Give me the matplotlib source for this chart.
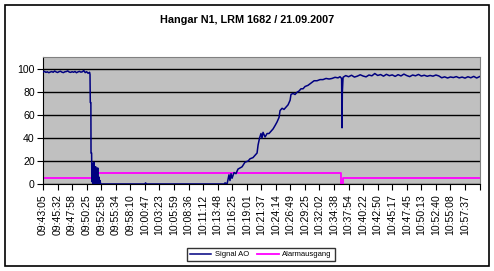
import matplotlib
matplotlib.use("Agg")
import matplotlib.pyplot as plt
from matplotlib.patches import Rectangle

plt.rcParams["font.family"] = ["Liberation Sans", "DejaVu Sans"]

# x positions are in units of the label interval (0 = first label)
time_labels = [
    "09:43:05", "09:45:32", "09:47:58", "09:50:25", "09:52:58", "09:55:34",
    "09:58:10", "10:00:47", "10:03:23", "10:05:59", "10:08:36", "10:11:12",
    "10:13:48", "10:16:25", "10:19:01", "10:21:37", "10:24:14", "10:26:49",
    "10:29:25", "10:32:02", "10:34:38", "10:37:54", "10:40:22", "10:42:50",
    "10:45:17", "10:47:45", "10:50:13", "10:52:40", "10:55:08", "10:57:37",
]

signal_x = [
    0.0, 0.1, 0.2, 0.3, 0.4, 0.5, 0.6, 0.7, 0.8, 0.9, 1.0, 1.1, 1.2, 1.3,
    1.4, 1.5, 1.6, 1.7, 1.8, 1.9, 2.0, 2.1, 2.2, 2.3, 2.4, 2.5, 2.6, 2.7,
    2.8, 2.9, 3.0, 3.1, 3.2,
    3.23, 3.25, 3.29, 3.30, 3.34, 3.36, 3.40, 3.42, 3.45, 3.47, 3.50, 3.53,
    3.56, 3.58, 3.62, 3.65, 3.68, 3.72, 3.76, 3.80, 3.85, 3.88, 3.92, 3.96,
    4.0, 7.0, 7.05, 7.1, 12.45,
    12.51, 12.65, 12.78, 12.85, 12.92, 12.99, 13.13, 13.26, 13.40, 13.54,
    13.68, 13.88, 14.09, 14.23, 14.43, 14.57, 14.71, 14.78, 14.88, 14.98,
    15.05, 15.12, 15.26, 15.40, 15.53, 15.67, 15.81, 15.95, 16.08, 16.22,
    16.29, 16.43, 16.56, 16.70, 16.84, 16.98, 17.04, 17.18, 17.32, 17.46,
    17.59, 17.73, 17.87, 18.01, 18.21, 18.42, 18.63, 18.83, 19.04, 19.24,
    19.45, 19.66, 19.86, 20.07, 20.27, 20.41, 20.52, 20.55, 20.57, 20.62,
    20.8, 21.0, 21.2, 21.4, 21.6, 21.8, 22.0, 22.2, 22.4, 22.6, 22.8, 23.0,
    23.2, 23.4, 23.6, 23.8, 24.0, 24.2, 24.4, 24.6, 24.8, 25.0, 25.2, 25.4,
    25.6, 25.8, 26.0, 26.2, 26.4, 26.6, 26.8, 27.0, 27.2, 27.4, 27.6, 27.8,
    28.0, 28.2, 28.4, 28.6, 28.8, 29.0, 29.2, 29.4, 29.6, 29.8, 30.0,
]
signal_y = [
    97.5, 98.2, 97.3, 97.8, 97.0, 97.6, 98.0, 97.4, 98.5, 97.7, 97.2, 97.9,
    98.3, 97.5, 97.1, 97.8, 98.0, 98.6, 97.6, 97.3, 97.9, 97.4, 98.1, 97.0,
    97.7, 98.2, 97.5, 97.8, 98.9, 97.1, 97.9, 96.5, 97.4,
    95.5, 71, 71, 27, 27, 2, 18, 0, 17, 2, 19, 0,
    10, 0, 15, 2, 12, 0, 14, 0, 6, 0, 3, 0,
    0, 0, 1, 0, 0,
    1, 0, 8, 3, 9, 5, 10, 9, 13, 14,
    15, 19, 20, 22, 23, 25, 27, 34, 40, 44,
    40, 45, 41, 44, 44, 46, 48, 51, 54, 58,
    64, 66, 65, 67, 69, 73, 78, 79, 78, 80,
    81, 83, 83, 85, 86, 88, 90, 90, 91, 91,
    92, 91.5, 92, 93, 92.5, 93.5, 92, 49, 80, 93,
    94.5, 93.5, 94.8, 93.2, 94.0, 95.2, 94.1, 93.4, 95.0, 94.3, 96.3, 94.6,
    95.4, 94.0, 95.6, 94.4, 95.1, 93.8, 95.3, 94.2, 95.8, 94.5, 93.6, 95.0,
    94.3, 95.5, 94.1, 94.8, 93.9, 94.6, 94.0, 95.0, 94.2, 92.6, 93.4, 92.4,
    93.3, 92.8, 93.6, 92.5, 93.2, 92.3, 93.5, 92.6, 93.8, 92.4, 93.6,
]

alarm_x = [0.0, 3.39, 3.39, 20.5, 20.5, 20.62, 20.62, 30.0]
alarm_y = [5, 5, 10, 10, 0, 0, 5, 5]

y_ticks = [0, 20, 40, 60, 80, 100]


def main() -> None:
    fig = plt.figure(figsize=(4.94, 2.71), dpi=100)
    fig.patches.append(
        Rectangle((5 / 494, 5 / 271), 484 / 494, 261 / 271, transform=fig.transFigure,
                  fill=False, edgecolor="black", linewidth=1.2)
    )
    ax = fig.add_axes([43 / 494, 1 - 184 / 271, 437 / 494, 127 / 271])
    ax.set_facecolor("#c0c0c0")

    ax.plot(signal_x, signal_y, color="#000080", lw=1.1, label="Signal AO", zorder=3)
    ax.plot(alarm_x, alarm_y, color="#ff00ff", lw=1.3, label="Alarmausgang", zorder=2)

    ax.set_xlim(0, 30.03)
    ax.set_ylim(0, 110.7)
    ax.set_yticks(y_ticks)
    ax.yaxis.grid(True, color="black", lw=1.0)
    ax.set_axisbelow(True)
    ax.set_xticks(range(31))
    ax.set_xticklabels(time_labels + [""], rotation=90, fontsize=7.6)
    ax.tick_params(axis="x", length=4, width=0.8, pad=3.5)
    ax.tick_params(axis="y", length=4, width=0.8, labelsize=7.6, pad=2)
    for side in ("top", "right"):
        ax.spines[side].set_color("#808080")
    ax.spines["left"].set_color("black")
    ax.spines["bottom"].set_color("black")

    fig.text(247 / 494, 1 - 20 / 271, "Hangar N1, LRM 1682 / 21.09.2007",
             ha="center", va="center", fontsize=7.8, fontweight="bold")

    leg = fig.legend(loc="center", bbox_to_anchor=(261 / 494, 1 - 254.5 / 271),
                     ncol=2, fontsize=5.5, frameon=True, fancybox=False,
                     edgecolor="black", handlelength=2.8, columnspacing=1.0,
                     borderpad=0.35, handletextpad=0.5)
    leg.get_frame().set_linewidth(1.0)

    fig.savefig("out.png", dpi=100)
    plt.close(fig)


if __name__ == "__main__":
    main()
